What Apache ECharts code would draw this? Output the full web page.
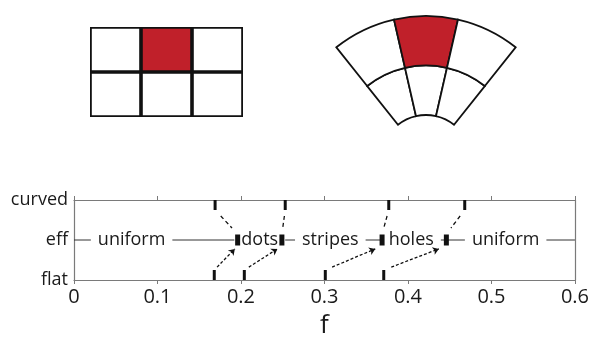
<!DOCTYPE html>
<html><head><meta charset="utf-8">
<script src="https://cdn.jsdelivr.net/npm/echarts@6/dist/echarts.min.js"></script>
<style>html,body{margin:0;padding:0;background:#fff}#c{width:592px;height:340px}</style>
</head><body><div id="c"></div>
<script>
// ---- data ----
const rows = ['flat', 'eff', 'curved'];
const xMin = 0, xMax = 0.6, xStep = 0.1;
const curvedT = [0.169, 0.253, 0.377, 0.468];
const flatT = [0.168, 0.204, 0.301, 0.371];
const effT = [0.196, 0.249, 0.369, 0.446];
const phaseNames = ['uniform', 'dots', 'stripes', 'holes', 'uniform'];
const phasePos = [0.069, 0.2225, 0.307, 0.404, 0.517];
const cellCols = ['L', 'M', 'R'];
const rowBottom = [1, 1, 1];
const rowTop = [1, 1, 1];
const highlightCol = 1;

// ---- build ----
const RED = '#c0202a', INK = '#111', AX = '#7a7a7a', TXT = '#1a1a1a';
const FONT = 'Open Sans';
const yC = rows.indexOf('curved'), yE = rows.indexOf('eff'), yF = rows.indexOf('flat');
function seg(a, b, t0, t1) {
  return [[a[0] + (b[0] - a[0]) * t0, a[1] + (b[1] - a[1]) * t0],
          [a[0] + (b[0] - a[0]) * t1, a[1] + (b[1] - a[1]) * t1]];
}
const curvedLinks = curvedT.map((x, i) => ({coords: seg([x, yC - 0.25], [effT[i], yE + 0.15], 0.25, 0.75)}));
const flatLinks = flatT.map((x, i) => ({coords: seg([x, yF + 0.25], [effT[i], yE - 0.15], 0.12, 0.88)}));
const topCells = rowTop.map((v, i) => ({value: v, itemStyle: {color: i === highlightCol ? RED : '#fff'}}));

const cellStyle = {color: '#fff', borderColor: INK, borderWidth: 1.8};
const hidden = {axisLine: {show: false}, axisTick: {show: false}, axisLabel: {show: false}, splitLine: {show: false}};

const option = {
  animation: false,
  backgroundColor: '#fff',
  textStyle: {fontFamily: FONT},
  grid: [
    {left: 74, right: 15, top: 200, bottom: 59, containLabel: false},
    {left: 90, top: 27, width: 153, height: 90}
  ],
  polar: {center: [426, 160], radius: [45, 144]},
  angleAxis: Object.assign({type: 'category', data: cellCols, startAngle: 128.5, endAngle: 51.5}, hidden),
  radiusAxis: Object.assign({type: 'value', min: 0, max: 2}, hidden),
  xAxis: [
    {gridIndex: 0, type: 'value', min: xMin, max: xMax, interval: xStep, position: 'bottom',
      axisLine: {show: true, onZero: false, lineStyle: {color: AX, width: 1.2}},
      axisTick: {show: true, length: 4, lineStyle: {color: AX}},
      axisLabel: {fontSize: 20, color: TXT, margin: 7, fontFamily: FONT,
        formatter: v => (Math.round(v * 10) / 10).toString()},
      splitLine: {show: false},
      name: 'f', nameLocation: 'middle', nameGap: 33,
      nameTextStyle: {fontSize: 26, color: TXT, fontFamily: FONT}},
    {gridIndex: 0, type: 'value', min: xMin, max: xMax, interval: xStep, position: 'top',
      axisLine: {show: true, onZero: false, lineStyle: {color: AX, width: 1.2}},
      axisTick: {show: true, length: 4, lineStyle: {color: AX}},
      axisLabel: {show: false}, splitLine: {show: false}},
    Object.assign({gridIndex: 1, type: 'category', data: cellCols}, hidden)
  ],
  yAxis: [
    {gridIndex: 0, type: 'value', min: 0, max: rows.length - 1, interval: 1, position: 'left',
      axisLine: {show: true, onZero: false, lineStyle: {color: AX, width: 1.2}},
      axisTick: {show: false},
      axisLabel: {fontSize: 18, color: TXT, margin: 6, fontFamily: FONT, formatter: v => rows[v]},
      splitLine: {show: false}},
    {gridIndex: 0, type: 'value', min: 0, max: rows.length - 1, interval: 1, position: 'right',
      axisLine: {show: true, onZero: false, lineStyle: {color: AX, width: 1.2}},
      axisTick: {show: false}, axisLabel: {show: false}, splitLine: {show: false}},
    Object.assign({gridIndex: 1, type: 'value', min: 0, max: 2}, hidden)
  ],
  series: [
    // flat grid diagram
    {type: 'bar', xAxisIndex: 2, yAxisIndex: 2, stack: 'g', barCategoryGap: '0%',
      data: rowBottom, itemStyle: cellStyle, z: 2},
    {type: 'bar', xAxisIndex: 2, yAxisIndex: 2, stack: 'g', barCategoryGap: '0%',
      data: topCells, itemStyle: cellStyle, z: 2},
    // curved grid diagram
    {type: 'bar', coordinateSystem: 'polar', stack: 'p', barCategoryGap: '0%',
      data: rowBottom, itemStyle: cellStyle, z: 2},
    {type: 'bar', coordinateSystem: 'polar', stack: 'p', barCategoryGap: '0%',
      data: topCells, itemStyle: cellStyle, z: 2},
    // eff line
    {type: 'line', xAxisIndex: 0, yAxisIndex: 0, data: [[xMin, yE], [xMax, yE]],
      symbol: 'none', lineStyle: {color: '#333', width: 1}, z: 2, silent: true},
    // phase labels
    {type: 'scatter', xAxisIndex: 0, yAxisIndex: 0, symbolSize: 1,
      itemStyle: {color: 'rgba(0,0,0,0)', opacity: 1},
      data: phasePos.map((x, i) => ({value: [x, yE], name: phaseNames[i]})),
      label: {show: true, position: 'inside', formatter: p => p.name, fontSize: 18, color: TXT,
        fontFamily: FONT, backgroundColor: '#fff', padding: [1, 7]}, z: 3},
    // dashed links
    {type: 'lines', coordinateSystem: 'cartesian2d', xAxisIndex: 0, yAxisIndex: 0,
      data: curvedLinks, symbol: 'none',
      lineStyle: {color: INK, width: 1.3, type: [4, 3], opacity: 1}, z: 4},
    {type: 'lines', coordinateSystem: 'cartesian2d', xAxisIndex: 0, yAxisIndex: 0,
      data: flatLinks, symbol: ['none', 'arrow'], symbolSize: 6,
      lineStyle: {color: INK, width: 1.3, type: [3, 2], opacity: 1}, z: 4},
    // transition marks
    {type: 'scatter', xAxisIndex: 0, yAxisIndex: 0, symbol: 'rect', symbolSize: [3, 10],
      symbolOffset: [0, 5], itemStyle: {color: INK, opacity: 1}, data: curvedT.map(x => [x, yC]), z: 5},
    {type: 'scatter', xAxisIndex: 0, yAxisIndex: 0, symbol: 'rect', symbolSize: [3, 10],
      symbolOffset: [0, -5], itemStyle: {color: INK, opacity: 1}, data: flatT.map(x => [x, yF]), z: 5},
    {type: 'scatter', xAxisIndex: 0, yAxisIndex: 0, symbol: 'rect', symbolSize: [5, 11],
      itemStyle: {color: INK, opacity: 1}, data: effT.map(x => [x, yE]), z: 5}
  ]
};
const chart = echarts.init(document.getElementById('c'), null, {renderer: 'canvas'});
chart.setOption(option);
</script>
</body></html>
